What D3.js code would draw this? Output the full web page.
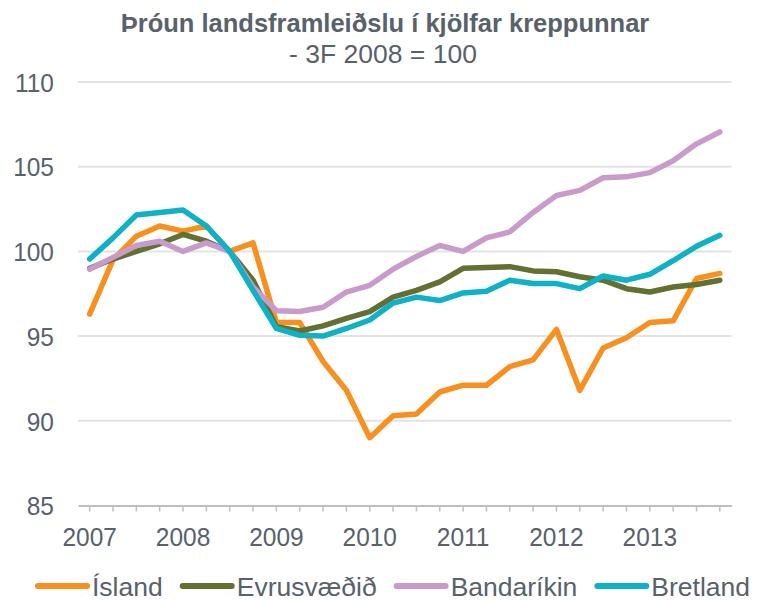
<!DOCTYPE html>
<html>
<head>
<meta charset="utf-8">
<script src="https://cdn.jsdelivr.net/npm/d3@7/dist/d3.min.js"></script>
<style>
  html, body { margin: 0; padding: 0; background: #fff; }
  svg { display: block; font-family: "Liberation Sans", Arial, sans-serif; }
</style>
</head>
<body>
<svg id="chart" width="757" height="600"></svg>
<script>
// ---- data ----
const quarters = [];
const years = [2007, 2008, 2009, 2010, 2011, 2012, 2013];
years.forEach(y => [1, 2, 3, 4].forEach(q => quarters.push(y + "Q" + q)));

const island = [96.3, 99.5, 100.9, 101.5, 101.2, 101.5, 100.0, 100.5, 95.8, 95.8, 93.5, 91.8, 89.0, 90.3,
                90.4, 91.7, 92.1, 92.1, 93.2, 93.6, 95.4, 91.8, 94.3, 94.9, 95.8, 95.9, 98.4, 98.7];
const evrusvaedid = [99.0, 99.55, 100.0, 100.45, 101.0, 100.6, 100.0, 98.3, 95.55, 95.3, 95.6, 96.05, 96.45, 97.3,
                     97.7, 98.2, 99.0, 99.05, 99.1, 98.85, 98.8, 98.5, 98.3, 97.8, 97.6, 97.9, 98.05, 98.3];
const bandarikin = [98.95, 99.65, 100.35, 100.6, 100.0, 100.5, 100.0, 97.9, 96.5, 96.45, 96.7, 97.6, 98.0, 98.95,
                    99.7, 100.35, 100.0, 100.8, 101.15, 102.3, 103.3, 103.6, 104.35, 104.4, 104.65, 105.35, 106.35, 107.05];
const bretland = [99.55, 100.8, 102.15, 102.3, 102.45, 101.5, 100.0, 97.7, 95.45, 95.05, 95.0, 95.45, 95.95, 96.95,
                  97.3, 97.1, 97.55, 97.65, 98.3, 98.1, 98.1, 97.8, 98.55, 98.3, 98.65, 99.45, 100.3, 100.95];

const seriesNames = ["Ísland", "Evrusvæðið", "Bandaríkin", "Bretland"];
const seriesColors = ["#F7901E", "#627032", "#C99BCA", "#0FB1C6"];
const yTicks = [85, 90, 95, 100, 105, 110];

const titleText = "Þróun landsframleiðslu í kjölfar kreppunnar";
const subtitleText = "- 3F 2008 = 100";

// ---- chart ----
const svg = d3.select("#chart");
const textColor = "#59616B";
const stretch = 1.08;

const x = d3.scaleBand().domain(quarters).range([78, 731.5]).padding(0);
const xc = d => x(d) + x.bandwidth() / 2;
const y = d3.scaleLinear().domain([85, 110]).range([505.5, 82]);

// gridlines
svg.append("g")
  .selectAll("line")
  .data(yTicks.filter(t => t !== 85))
  .join("line")
  .attr("x1", 78).attr("x2", 731.5)
  .attr("y1", d => y(d)).attr("y2", d => y(d))
  .attr("stroke", "#E3E3E3").attr("stroke-width", 2);

// y axis labels
const yAxis = d3.axisLeft(y).tickValues(yTicks).tickSize(0).tickPadding(0);
const gy = svg.append("g").attr("transform", "translate(54,0)").call(yAxis);
gy.select(".domain").remove();
gy.selectAll(".tick text")
  .attr("fill", textColor)
  .style("font-size", "24.5px")
  .attr("x", 0)
  .attr("dy", "0.35em")
  .attr("transform", `scale(1,${stretch})`);

// x axis
const xAxis = d3.axisBottom(x)
  .tickSize(6)
  .tickSizeOuter(0)
  .tickFormat(d => d.endsWith("Q1") ? d.slice(0, 4) : "");
const gx = svg.append("g").attr("transform", `translate(0,${y(85)})`).call(xAxis);
gx.select(".domain").attr("stroke", "#BFBFBF").attr("stroke-width", 2);
gx.selectAll(".tick line").attr("stroke", "#BFBFBF").attr("stroke-width", 1.5);
gx.selectAll(".tick text")
  .attr("fill", textColor)
  .style("font-size", "24.5px")
  .attr("y", 20.5).attr("dy", "0.71em")
  .attr("transform", `scale(1,${stretch})`);

// lines
const allSeries = [island, evrusvaedid, bandarikin, bretland];
const line = d3.line()
  .x((d, i) => xc(quarters[i]))
  .y(d => y(d));

svg.append("g")
  .selectAll("path")
  .data(allSeries)
  .join("path")
  .attr("d", d => line(d))
  .attr("fill", "none")
  .attr("stroke", (d, i) => seriesColors[i])
  .attr("stroke-width", 5.5)
  .attr("stroke-linejoin", "round")
  .attr("stroke-linecap", "round");

// title
svg.append("text")
  .attr("x", 385).attr("y", 32)
  .attr("text-anchor", "middle")
  .attr("fill", textColor)
  .style("font-size", "25.5px")
  .style("font-weight", "bold")
  .text(titleText);
svg.append("text")
  .attr("x", 383).attr("y", 63)
  .attr("text-anchor", "middle")
  .attr("fill", textColor)
  .style("font-size", "26.5px")
  .text(subtitleText);

// legend
const legend = svg.append("g");
let lx = 35;
const ly = 586;
seriesNames.forEach((name, i) => {
  legend.append("line")
    .attr("x1", lx + 3).attr("x2", lx + 52)
    .attr("y1", ly).attr("y2", ly)
    .attr("stroke", seriesColors[i])
    .attr("stroke-width", 6)
    .attr("stroke-linecap", "round");
  const t = legend.append("text")
    .attr("x", lx + 57).attr("y", ly + 9.5)
    .attr("fill", textColor)
    .style("font-size", "26.5px")
    .text(name);
  lx = lx + 57 + t.node().getComputedTextLength() + 17;
});
</script>
</body>
</html>
